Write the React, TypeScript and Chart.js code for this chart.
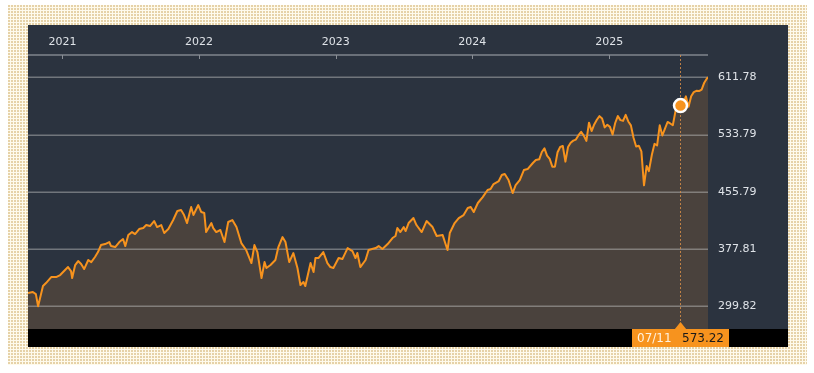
import React, { useEffect, useRef } from 'react';
import { Chart, registerables } from 'chart.js';

Chart.register(...registerables);

const dates: string[] = [
  '2020-10-01', '2020-10-14', '2020-10-22', '2020-10-28', '2020-11-10', '2020-11-18', '2020-12-02', '2020-12-15', '2020-12-26',
  '2021-01-08', '2021-01-16', '2021-01-24', '2021-01-27', '2021-02-04', '2021-02-12', '2021-02-20', '2021-02-28', '2021-03-11',
  '2021-03-19', '2021-03-29', '2021-04-06', '2021-04-14', '2021-04-25', '2021-05-06', '2021-05-11', '2021-05-22', '2021-06-02',
  '2021-06-12', '2021-06-18', '2021-06-26', '2021-07-06', '2021-07-14', '2021-07-25', '2021-08-05', '2021-08-13', '2021-08-23',
  '2021-09-03', '2021-09-11', '2021-09-22', '2021-09-30', '2021-10-11', '2021-10-24', '2021-11-04', '2021-11-14', '2021-11-22',
  '2021-11-30', '2021-12-11', '2021-12-17', '2021-12-30', '2022-01-07', '2022-01-15', '2022-01-20', '2022-02-03', '2022-02-08',
  '2022-02-16', '2022-02-27', '2022-03-10', '2022-03-20', '2022-03-31', '2022-04-11', '2022-04-24', '2022-05-07', '2022-05-21',
  '2022-05-29', '2022-06-06', '2022-06-17', '2022-06-25', '2022-06-30', '2022-07-11', '2022-07-24', '2022-08-01', '2022-08-12',
  '2022-08-20', '2022-08-30', '2022-09-10', '2022-09-21', '2022-09-29', '2022-10-07', '2022-10-12', '2022-10-26', '2022-11-03',
  '2022-11-08', '2022-11-16', '2022-11-29', '2022-12-10', '2022-12-18', '2022-12-26', '2023-01-09', '2023-01-19', '2023-02-02',
  '2023-02-15', '2023-02-23', '2023-02-28', '2023-03-08', '2023-03-22', '2023-03-30', '2023-04-18', '2023-04-26', '2023-05-06',
  '2023-05-20', '2023-06-02', '2023-06-10', '2023-06-15', '2023-06-23', '2023-07-02', '2023-07-07', '2023-07-15', '2023-07-28',
  '2023-08-05', '2023-08-19', '2023-09-01', '2023-09-17', '2023-09-28', '2023-10-14', '2023-10-27', '2023-11-02', '2023-11-15',
  '2023-11-26', '2023-12-09', '2023-12-20', '2023-12-28', '2024-01-05', '2024-01-16', '2024-01-29', '2024-02-11', '2024-02-19',
  '2024-02-27', '2024-03-12', '2024-03-20', '2024-03-28', '2024-04-07', '2024-04-18', '2024-04-26', '2024-05-07', '2024-05-18',
  '2024-05-28', '2024-06-11', '2024-06-19', '2024-06-28', '2024-07-05', '2024-07-12', '2024-07-19', '2024-07-26', '2024-08-02',
  '2024-08-09', '2024-08-16', '2024-08-23', '2024-08-30', '2024-09-06', '2024-09-13', '2024-09-20', '2024-09-27', '2024-10-04',
  '2024-10-11', '2024-10-18', '2024-10-25', '2024-11-01', '2024-11-08', '2024-11-15', '2024-11-22', '2024-11-29', '2024-12-06',
  '2024-12-13', '2024-12-20', '2024-12-27', '2025-01-03', '2025-01-10', '2025-01-17', '2025-01-24', '2025-01-31', '2025-02-07',
  '2025-02-14', '2025-02-21', '2025-02-28', '2025-03-07', '2025-03-14', '2025-03-21', '2025-03-28', '2025-04-04', '2025-04-11',
  '2025-04-17', '2025-04-25', '2025-05-02', '2025-05-09', '2025-05-16', '2025-05-23', '2025-05-30', '2025-06-06', '2025-06-13',
  '2025-06-20', '2025-06-27', '2025-07-03', '2025-07-11', '2025-07-18', '2025-07-25', '2025-08-01', '2025-08-08', '2025-08-15',
  '2025-08-22', '2025-08-29', '2025-09-05', '2025-09-12', '2025-09-19', '2025-09-22',
];

const prices: number[] = [
  317.8, 319.2, 316.4, 299.82, 327.3, 331.4, 339.6, 339.6, 342.3,
  349.2, 353.2, 347.8, 338.2, 355.9, 361.4, 357.3, 350.5, 362.8,
  360.0, 366.9, 373.7, 383.2, 384.6, 387.3, 381.8, 380.5, 387.3,
  391.4, 381.8, 396.8, 400.9, 398.2, 405.0, 406.4, 410.5, 409.1,
  415.9, 407.7, 410.5, 399.6, 405.0, 417.3, 429.6, 430.9, 424.1,
  413.2, 435.0, 424.1, 437.7, 428.2, 426.8, 400.9, 413.2, 406.4,
  400.9, 403.7, 387.3, 414.6, 417.3, 407.7, 385.9, 376.4, 358.7,
  383.2, 373.7, 338.2, 360.0, 351.9, 356.0, 362.8, 380.5, 394.1,
  387.3, 360.0, 372.3, 351.9, 328.7, 332.8, 327.3, 358.7, 346.4,
  365.5, 365.5, 373.7, 358.7, 353.2, 351.9, 365.5, 364.1, 379.1,
  375.0, 365.5, 372.3, 353.2, 362.8, 376.4, 379.1, 381.8, 377.8,
  384.6, 392.8, 395.5, 406.4, 400.9, 407.7, 402.3, 413.2, 420.0,
  410.5, 400.9, 415.9, 407.7, 395.5, 396.8, 376.4, 399.6, 413.2,
  420.0, 424.1, 433.6, 435.0, 428.2, 440.5, 448.6, 458.2, 459.5,
  466.3, 470.4, 478.6, 480.0, 471.8, 454.1, 465.0, 471.8, 485.4,
  486.8, 495.0, 499.1, 500.0, 510.0, 515.0, 505.0, 500.6, 490.0,
  490.0, 509.7, 516.9, 518.3, 496.9, 516.8, 522.5, 525.5, 526.9,
  532.9, 537.5, 532.4, 525.1, 550.0, 538.6, 547.6, 554.0, 558.9,
  555.6, 543.6, 547.1, 544.3, 533.8, 549.5, 559.0, 553.4, 552.4,
  560.6, 551.6, 546.3, 529.5, 517.5, 518.6, 510.9, 464.6, 490.9,
  484.0, 506.3, 521.1, 518.9, 546.4, 532.5, 541.9, 550.9, 548.9,
  546.4, 565.4, 575.0, 573.22, 577.0, 585.8, 571.7, 585.9, 591.6,
  593.4, 593.1, 595.1, 604.5, 610.3, 611.78,
];

const yearTickDates: string[] = ['2021-01-01', '2022-01-01', '2023-01-01', '2024-01-01', '2025-01-01'];
const yearLabels: string[] = ['2021', '2022', '2023', '2024', '2025'];
const yTickValues: number[] = [299.82, 377.81, 455.79, 533.79, 611.78];

const highlightDate = '2025-07-11';
const highlightLabel = '07/11';
const highlightValue = 573.22;

const Y_MIN = 268.8;
const Y_MAX = 642.2;

const ORANGE = '#f7931e';
const FONT = 'DejaVu Sans';

const DOT_PATTERN =
  "url(\"data:image/svg+xml,%3Csvg xmlns='http://www.w3.org/2000/svg' width='3' height='3'%3E%3Crect width='3' height='3' fill='%23fefaec'/%3E%3Crect width='2' height='2' fill='%23e6d2a8'/%3E%3C/svg%3E\")";

const overlayPlugin = {
  id: 'overlay',
  beforeDraw(chart: any) {
    const { ctx, chartArea, width, height } = chart;
    ctx.save();
    ctx.fillStyle = '#000000';
    ctx.fillRect(0, chartArea.bottom, width, height - chartArea.bottom);
    ctx.restore();
  },
  beforeDatasetDraw(chart: any) {
    const { ctx, chartArea, scales } = chart;
    const ys = scales.y;
    ctx.save();
    ctx.strokeStyle = 'rgba(200,200,200,0.45)';
    ctx.lineWidth = 1.5;
    yTickValues.forEach((v) => {
      const y = Math.round(ys.getPixelForValue(v)) + 0.25;
      ctx.beginPath();
      ctx.moveTo(chartArea.left, y);
      ctx.lineTo(chartArea.right, y);
      ctx.stroke();
    });
    ctx.restore();
  },
  afterDraw(chart: any) {
    const { ctx, chartArea, scales, height } = chart;
    const xs = scales.x;
    const ys = scales.y;
    ctx.save();
    ctx.strokeStyle = '#6a7079';
    ctx.lineWidth = 2;
    ctx.beginPath();
    ctx.moveTo(chartArea.left, chartArea.top);
    ctx.lineTo(chartArea.right, chartArea.top);
    ctx.stroke();
    ctx.lineWidth = 1;
    ctx.strokeStyle = '#8a8f96';
    yearTickDates.forEach((d) => {
      const x = Math.round(xs.getPixelForValue(Date.parse(d))) + 0.5;
      ctx.beginPath();
      ctx.moveTo(x, chartArea.top);
      ctx.lineTo(x, chartArea.top + 4);
      ctx.stroke();
    });
    const hx = Math.round(xs.getPixelForValue(Date.parse(highlightDate))) - 0.5;
    const hy = ys.getPixelForValue(highlightValue);
    ctx.strokeStyle = 'rgba(214,140,70,0.85)';
    ctx.setLineDash([2, 2]);
    ctx.beginPath();
    ctx.moveTo(hx, chartArea.top);
    ctx.lineTo(hx, chartArea.bottom);
    ctx.stroke();
    ctx.setLineDash([]);
    ctx.beginPath();
    ctx.arc(hx, hy, 6.5, 0, Math.PI * 2);
    ctx.fillStyle = ORANGE;
    ctx.fill();
    ctx.lineWidth = 2.5;
    ctx.strokeStyle = '#ffffff';
    ctx.stroke();
    const boxW = 97;
    const bx = Math.round(hx - boxW / 2);
    const by = chartArea.bottom;
    ctx.fillStyle = ORANGE;
    ctx.fillRect(bx, by, boxW, height - by);
    ctx.beginPath();
    ctx.moveTo(hx - 6, by + 0.5);
    ctx.lineTo(hx, by - 7);
    ctx.lineTo(hx + 6, by + 0.5);
    ctx.closePath();
    ctx.fill();
    ctx.font = `12px "${FONT}"`;
    ctx.textBaseline = 'middle';
    const ty = by + (height - by) / 2 + 0.5;
    ctx.fillStyle = '#fff1de';
    ctx.textAlign = 'left';
    ctx.fillText(highlightLabel, bx + 5, ty);
    ctx.fillStyle = '#1a1a1a';
    ctx.textAlign = 'right';
    ctx.fillText(highlightValue.toFixed(2), bx + boxW - 5, ty);
    ctx.restore();
  },
};

export default function App() {
  const canvasRef = useRef<HTMLCanvasElement | null>(null);

  useEffect(() => {
    const canvas = canvasRef.current;
    if (!canvas) return;
    const points = dates.map((d, i) => ({ x: Date.parse(d), y: prices[i] }));
    const chart = new Chart(canvas, {
      type: 'line',
      data: {
        datasets: [
          {
            data: points,
            borderColor: ORANGE,
            borderWidth: 2,
            borderJoinStyle: 'round',
            pointRadius: 0,
            tension: 0,
            fill: 'start',
            backgroundColor: '#4a423d',
          },
        ],
      },
      options: {
        responsive: false,
        animation: false,
        events: [],
        layout: { padding: { left: 0, right: 0, top: 0, bottom: 18 } },
        plugins: { legend: { display: false }, tooltip: { enabled: false } },
        scales: {
          x: {
            type: 'linear',
            position: 'top',
            min: Date.parse(dates[0]),
            max: Date.parse(dates[dates.length - 1]),
            afterBuildTicks: (s: any) => {
              s.ticks = yearTickDates.map((d) => ({ value: Date.parse(d) }));
            },
            afterFit: (s: any) => {
              s.height = 30;
            },
            grid: { display: false, drawTicks: false },
            border: { display: false },
            ticks: {
              autoSkip: false,
              maxRotation: 0,
              padding: 6,
              color: '#dfe3e8',
              font: { family: FONT, size: 11 },
              callback: (_v: any, i: number) => yearLabels[i],
            },
          },
          y: {
            type: 'linear',
            position: 'right',
            min: Y_MIN,
            max: Y_MAX,
            afterBuildTicks: (s: any) => {
              s.ticks = yTickValues.map((v) => ({ value: v }));
            },
            afterFit: (s: any) => {
              s.width = 80;
            },
            grid: { display: false, drawTicks: false },
            border: { display: false },
            ticks: {
              padding: 10,
              color: '#dfe3e8',
              font: { family: FONT, size: 11 },
              callback: (v: any) => Number(v).toFixed(2),
            },
          },
        },
      },
      plugins: [overlayPlugin],
    } as any);
    return () => chart.destroy();
  }, []);

  return (
    <div
      style={{
        position: 'absolute',
        left: 8,
        top: 5,
        width: 799,
        height: 360,
        backgroundColor: '#fefaec',
        backgroundImage: DOT_PATTERN,
        backgroundSize: '3px 3px',
      }}
    >
      <div
        style={{
          position: 'absolute',
          left: 20,
          top: 20,
          width: 760,
          height: 322,
          background: '#2b333f',
        }}
      >
        <canvas ref={canvasRef} width={760} height={322} style={{ display: 'block', width: 760, height: 322 }} />
      </div>
    </div>
  );
}
